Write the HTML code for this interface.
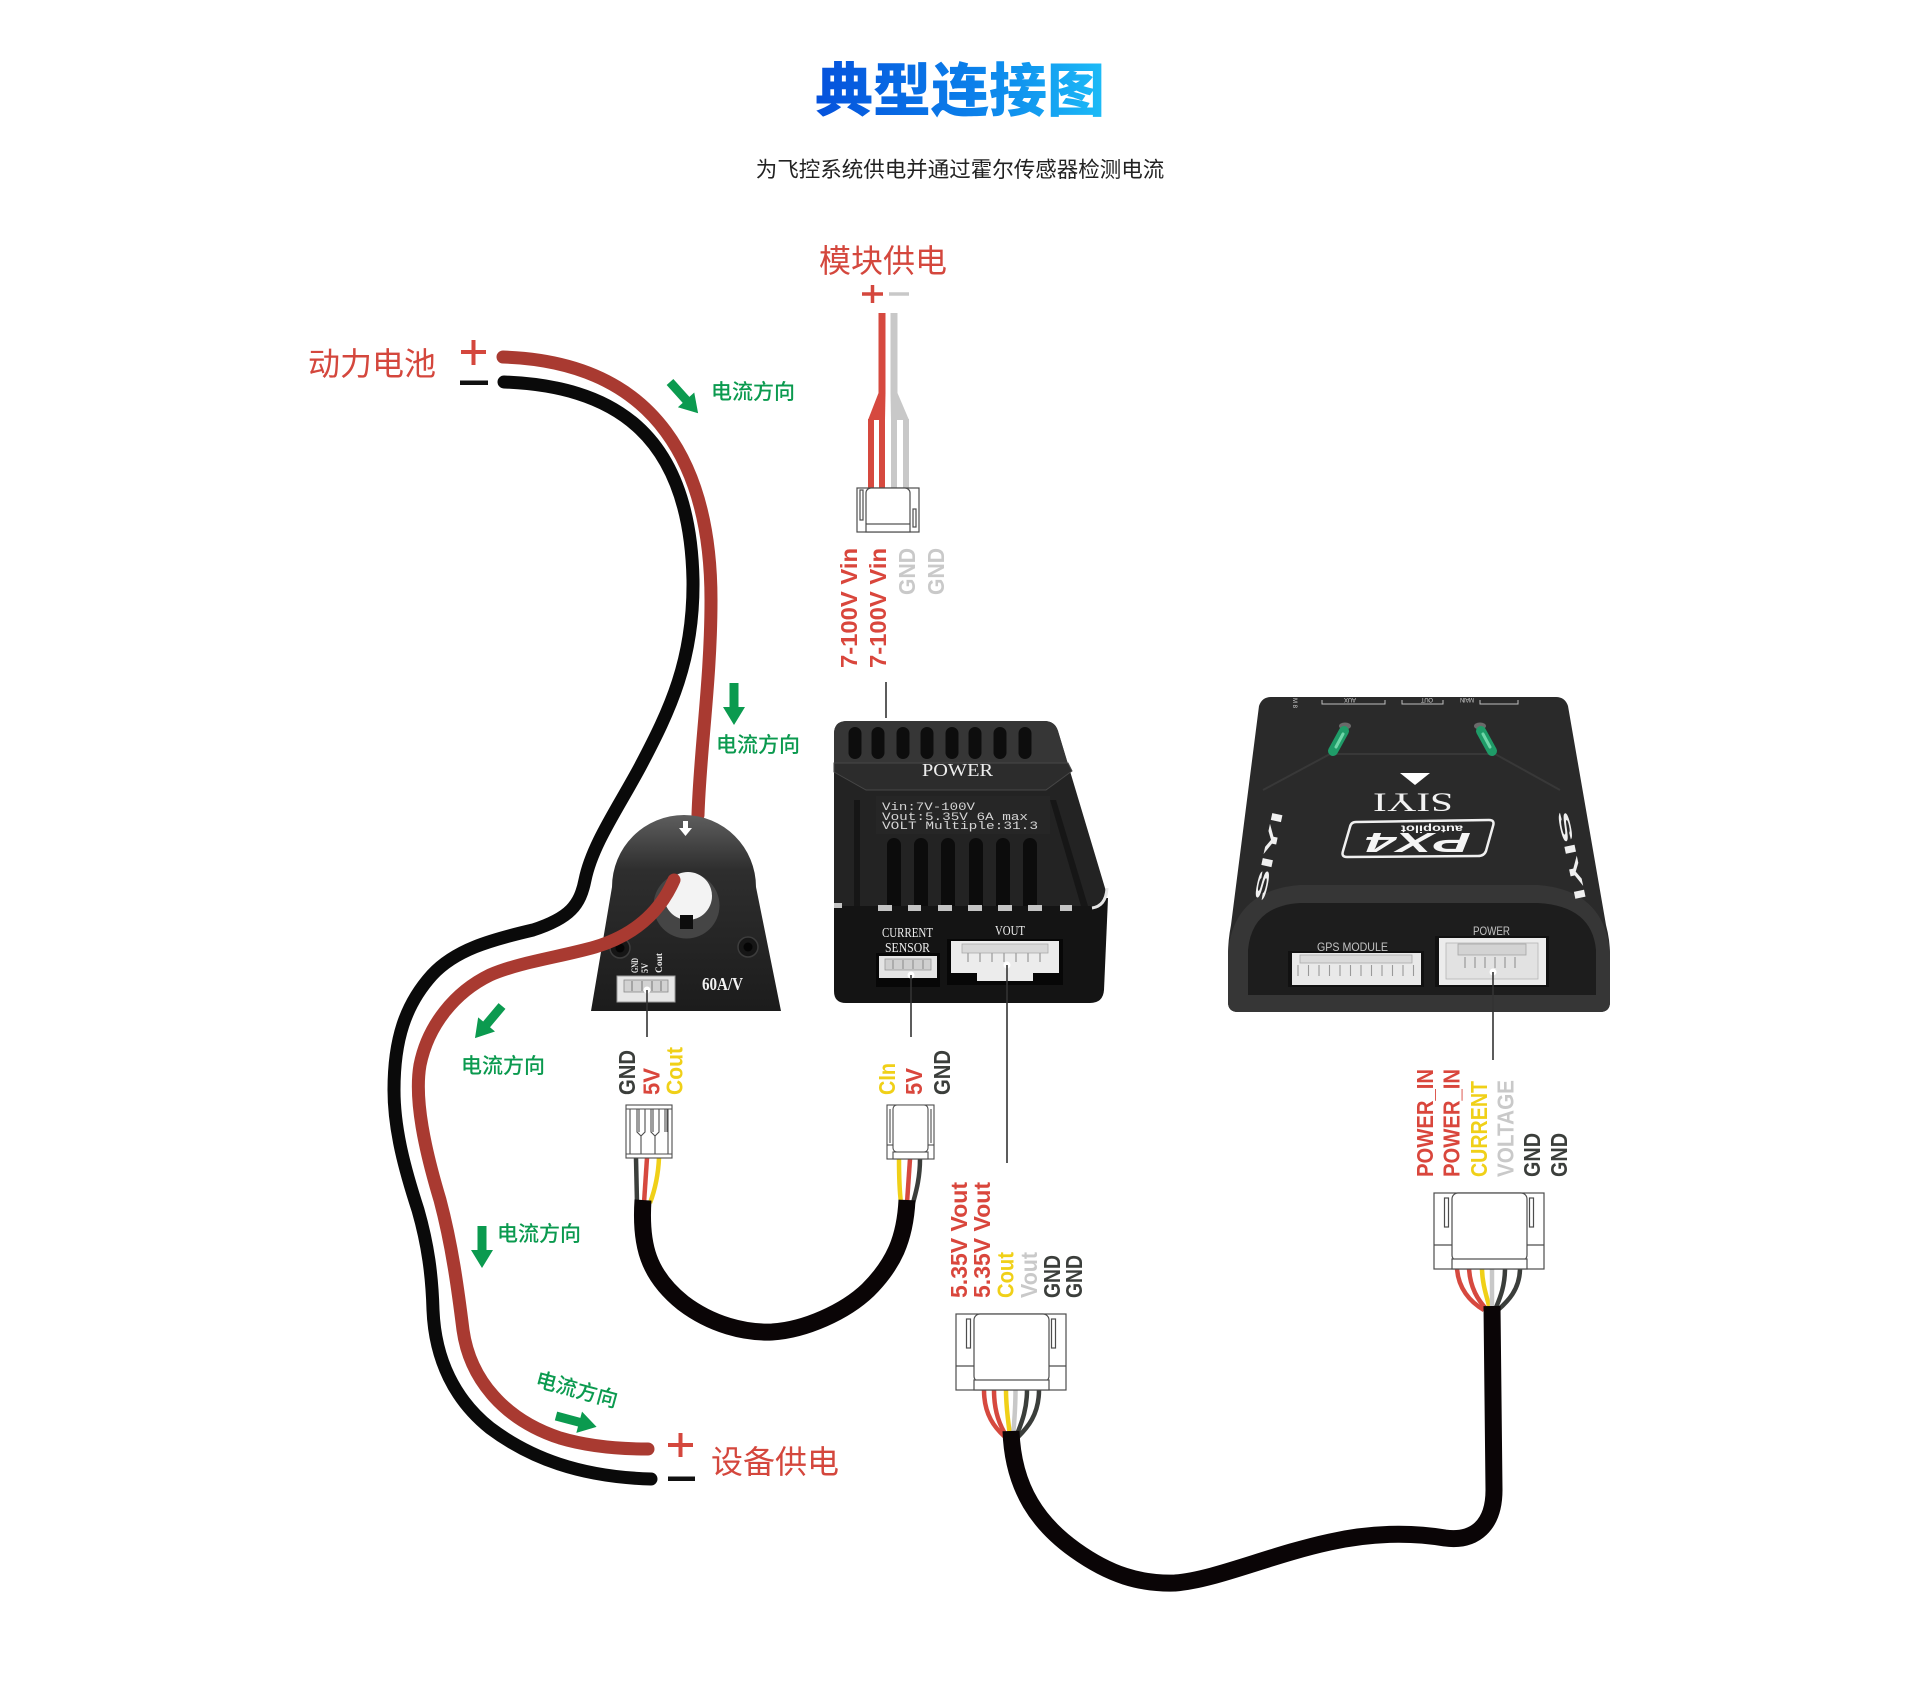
<!DOCTYPE html>
<html lang="zh"><head><meta charset="utf-8"><title>典型连接图</title>
<style>
html,body{margin:0;padding:0;background:#fff;width:1920px;height:1706px;overflow:hidden}
svg{display:block}
.cjk{font-family:"Liberation Sans","Noto Sans CJK SC",sans-serif}
.L{font-family:"Liberation Sans",sans-serif;font-weight:700;font-size:23px}
.g{font-family:"Liberation Sans","Noto Sans CJK SC",sans-serif;font-size:21px;fill:#0b9a4f;font-weight:500}
.serif{font-family:"Liberation Serif",serif}
.mono{font-family:"Liberation Mono",monospace}
.sans{font-family:"Liberation Sans",sans-serif}
</style></head><body>
<svg width="1920" height="1706" viewBox="0 0 1920 1706" xmlns="http://www.w3.org/2000/svg">
<defs>
<linearGradient id="tg" gradientUnits="userSpaceOnUse" x1="818" y1="0" x2="1103" y2="0">
<stop offset="0" stop-color="#0552dc"/><stop offset="0.55" stop-color="#0b80ea"/><stop offset="1" stop-color="#1cbbf7"/>
</linearGradient>
<linearGradient id="sens" x1="0" y1="0" x2="0" y2="1">
<stop offset="0" stop-color="#5e5e5e"/><stop offset="0.28" stop-color="#2e2e2e"/><stop offset="1" stop-color="#1c1c1c"/>
</linearGradient>
<path id="arr" d="M0 -4.5 L24 -4.5 L24 -11 L42 0 L24 11 L24 4.5 L0 4.5 Z" fill="#0b9a4f"/>
<g id="c6" fill="#fff" stroke="#4d4d4d" stroke-width="1.2">
<rect x="0" y="0" width="110" height="76"/>
<rect x="18" y="0" width="75" height="68" rx="6"/>
<rect x="18" y="66" width="75" height="10"/>
<rect x="10.5" y="5" width="4" height="29"/>
<rect x="95.5" y="5" width="4" height="29"/>
<line x1="0" y1="52" x2="18" y2="52"/>
<line x1="93" y1="52" x2="110" y2="52"/>
</g>
</defs>

<rect width="1920" height="1706" fill="#fff"/>

<!-- Title -->
<text class="cjk" x="960" y="111" text-anchor="middle" font-size="58" font-weight="900" fill="url(#tg)">典型连接图</text>
<text class="cjk" x="960" y="177" text-anchor="middle" font-size="21.5" fill="#222">为飞控系统供电并通过霍尔传感器检测电流</text>

<!-- Red labels -->
<text class="cjk" x="308" y="375" font-size="32" fill="#d4473d">动力电池</text>
<text class="cjk" x="819" y="272" font-size="32" fill="#d4473d">模块供电</text>
<text class="cjk" x="711" y="1473" font-size="32" fill="#d4473d">设备供电</text>

<!-- plus / minus -->
<g stroke="#d4473d" stroke-width="4">
<line x1="461" y1="352" x2="486" y2="352"/><line x1="473.5" y1="340" x2="473.5" y2="365"/>
<line x1="668" y1="1445" x2="693" y2="1445"/><line x1="680.5" y1="1433" x2="680.5" y2="1457"/>
</g>
<rect x="460" y="380.5" width="28" height="4.5" fill="#111"/>
<rect x="668" y="1476.5" width="27" height="4.5" fill="#111"/>
<g stroke-width="3.5">
<line x1="862" y1="294" x2="883" y2="294" stroke="#d4473d"/><line x1="872.5" y1="285" x2="872.5" y2="303" stroke="#d4473d"/>
<line x1="889" y1="294" x2="909" y2="294" stroke="#c8c8c8"/>
</g>

<!-- Battery cables -->
<path d="M504 382 C610 386, 690 430, 693 580 C694 660, 670 710, 640 767 C618 808, 592 845, 585 880 C580 905, 570 918, 533 930 C490 940, 455 950, 432 975 C405 1005, 394 1040, 394 1090 C394 1130, 405 1170, 418 1210 C428 1245, 432 1275, 433 1310 C435 1360, 455 1400, 490 1428 C530 1458, 580 1477, 651 1479" fill="none" stroke="#0a0a0a" stroke-width="13" stroke-linecap="round"/>
<path d="M503 357 C660 362, 711 470, 711 600 C711 680, 700 750, 698 815" fill="none" stroke="#a93a31" stroke-width="13" stroke-linecap="round"/>

<!-- Hall sensor -->
<g>
<path d="M591 1011 L612 887 A72 72 0 1 1 756 887 L781 1011 Z" fill="url(#sens)"/>
<circle cx="686.5" cy="905.5" r="33" fill="#454545"/>
<circle cx="688" cy="896" r="24" fill="#f3f3f3"/>
<rect x="680" y="915" width="13" height="14" fill="#0d0d0d"/>
<circle cx="620" cy="948" r="10" fill="#161616" stroke="#3d3d3d" stroke-width="1.5"/>
<circle cx="620" cy="948" r="4.5" fill="#050505"/>
<circle cx="748" cy="947" r="10" fill="#161616" stroke="#3d3d3d" stroke-width="1.5"/>
<circle cx="748" cy="947" r="4.5" fill="#050505"/>
<path d="M683 821 H688 V828 H692 L685.5 836 L679 828 H683 Z" fill="#fff"/>
<rect x="617" y="976" width="58" height="26" fill="#e6e6e6" stroke="#9a9a9a"/>
<rect x="624" y="980" width="44" height="12" fill="#d2d2d2" stroke="#8a8a8a" stroke-width="0.8"/>
<g stroke="#777" stroke-width="1"><line x1="632" y1="981" x2="632" y2="991"/><line x1="642" y1="981" x2="642" y2="991"/><line x1="652" y1="981" x2="652" y2="991"/><line x1="661" y1="981" x2="661" y2="991"/></g>
<text class="serif" fill="#eee" font-size="9" font-weight="700" transform="translate(638,973) rotate(-90)" textLength="15" lengthAdjust="spacingAndGlyphs">GND</text>
<text class="serif" fill="#eee" font-size="9" font-weight="700" transform="translate(648,973) rotate(-90)" textLength="10" lengthAdjust="spacingAndGlyphs">5V</text>
<text class="serif" fill="#eee" font-size="9" font-weight="700" transform="translate(662,973) rotate(-90)" textLength="20" lengthAdjust="spacingAndGlyphs">Cout</text>
<text class="serif" x="702" y="990" fill="#f2f2f2" font-size="18" font-weight="700" textLength="41" lengthAdjust="spacingAndGlyphs">60A/V</text>
</g>
<!-- red lower emerges from hole -->
<path d="M674 880 C660 912, 635 935, 595 947 C560 957, 520 962, 490 975 C455 992, 428 1025, 420 1065 C414 1100, 425 1150, 440 1200 C452 1245, 458 1290, 463 1330 C470 1380, 505 1420, 560 1438 C590 1447, 620 1449, 648 1449" fill="none" stroke="#a93a31" stroke-width="13" stroke-linecap="round"/>
<circle cx="647" cy="990" r="3.5" fill="#fff"/>
<line x1="647" y1="990" x2="647" y2="1037" stroke="#333" stroke-width="1.6"/>

<!-- Module power wires -->
<rect x="878.5" y="313" width="7" height="81" fill="#d6493f"/>
<rect x="890.5" y="313" width="7" height="81" fill="#c8c8c8"/>
<polygon points="878.5,393 885.5,393 885,420 868,420" fill="#d6493f"/>
<polygon points="890.5,393 897.5,393 909,420 891,420" fill="#c8c8c8"/>
<rect x="868" y="419" width="6" height="70" fill="#d6493f"/>
<rect x="879" y="419" width="6" height="70" fill="#d6493f"/>
<rect x="891" y="419" width="6" height="70" fill="#c8c8c8"/>
<rect x="903" y="419" width="6" height="70" fill="#c8c8c8"/>
<g transform="translate(857,488)" fill="#fff" stroke="#4d4d4d" stroke-width="1.2">
<rect x="0" y="0" width="62" height="44"/>
<rect x="9" y="0" width="44" height="40" rx="5"/>
<rect x="9" y="36" width="44" height="8"/>
<rect x="3" y="2" width="3" height="30"/>
<rect x="56" y="21" width="3" height="18"/>
</g>
<text class="L" fill="#d9463c" transform="translate(857,668) rotate(-90)" textLength="120" lengthAdjust="spacingAndGlyphs">7-100V Vin</text>
<text class="L" fill="#d9463c" transform="translate(886,668) rotate(-90)" textLength="120" lengthAdjust="spacingAndGlyphs">7-100V Vin</text>
<text class="L" fill="#c9c9c9" transform="translate(915,595) rotate(-90)" textLength="47" lengthAdjust="spacingAndGlyphs">GND</text>
<text class="L" fill="#c9c9c9" transform="translate(944,595) rotate(-90)" textLength="47" lengthAdjust="spacingAndGlyphs">GND</text>
<line x1="886" y1="682" x2="886" y2="718" stroke="#333" stroke-width="1.6"/>

<!-- POWER module -->
<g>
<path d="M834 898 L1108 898 L1104 990 Q1103 1003 1090 1003 L846 1003 Q834 1003 834 991 Z" fill="#141414"/>
<path d="M847 721 L1044 721 Q1055 721 1058 731 L1105 888 Q1110 906 1094 906 L834 906 L834 734 Q834 721 847 721 Z" fill="#232323"/>
<path d="M847 721 L1044 721 Q1055 721 1058 731 L1068 764 L834 764 L834 734 Q834 721 847 721 Z" fill="#363636"/>
<g fill="#0d0d0d">
<rect x="848.5" y="727" width="13" height="32" rx="6.5"/>
<rect x="871.5" y="727" width="13" height="32" rx="6.5"/>
<rect x="896.5" y="727" width="13" height="32" rx="6.5"/>
<rect x="920.5" y="727" width="13" height="32" rx="6.5"/>
<rect x="945.5" y="727" width="13" height="32" rx="6.5"/>
<rect x="968.5" y="727" width="13" height="32" rx="6.5"/>
<rect x="993.5" y="727" width="13" height="32" rx="6.5"/>
<rect x="1018.5" y="727" width="13" height="32" rx="6.5"/>
</g>
<path d="M834 763 L1068 763 L1072 771 L1046 790 L866 790 L834 772 Z" fill="#2c2c2c" stroke="#474747" stroke-width="1"/>
<text class="serif" x="922" y="776" fill="#ededed" font-size="18" textLength="71" lengthAdjust="spacingAndGlyphs">POWER</text>
<rect x="876" y="796" width="174" height="38" fill="#262626"/>
<g class="mono" fill="#d6d6d6" font-size="11">
<text x="882" y="810" textLength="93" lengthAdjust="spacingAndGlyphs">Vin:7V-100V</text>
<text x="882" y="820" textLength="146" lengthAdjust="spacingAndGlyphs">Vout:5.35V 6A max</text>
<text x="882" y="829" textLength="156" lengthAdjust="spacingAndGlyphs">VOLT Multiple:31.3</text>
</g>
<g fill="#0c0c0c">
<path d="M887 906 V845 a7 7 0 0 1 14 0 V906 Z"/>
<path d="M914 906 V845 a7 7 0 0 1 14 0 V906 Z"/>
<path d="M941 906 V845 a7 7 0 0 1 14 0 V906 Z"/>
<path d="M969 906 V845 a7 7 0 0 1 14 0 V906 Z"/>
<path d="M996 906 V845 a7 7 0 0 1 14 0 V906 Z"/>
<path d="M1023 906 V845 a7 7 0 0 1 14 0 V906 Z"/>
<rect x="854" y="800" width="6" height="106" fill="#161616"/>
<polygon points="1050,800 1056,800 1088,906 1081,906" fill="#161616"/>
</g>
<g fill="#c4c4c4">
<rect x="878" y="905" width="14" height="6"/><rect x="908" y="905" width="13" height="6"/><rect x="938" y="905" width="14" height="6"/><rect x="968" y="905" width="14" height="6"/><rect x="998" y="905" width="14" height="6"/><rect x="1028" y="905" width="14" height="6"/><rect x="1060" y="905" width="12" height="6"/>
<rect x="834" y="903" width="8" height="5"/>
</g>
<path d="M1092 908 Q1106 906 1107 888" fill="none" stroke="#e6e6e6" stroke-width="3"/>
<rect x="876" y="953" width="64" height="34" fill="#070707"/>
<rect x="879" y="956" width="58" height="22" fill="#e4e4e4"/>
<rect x="885" y="959" width="46" height="11" fill="#cfcfcf" stroke="#999" stroke-width="0.8"/>
<g stroke="#888" stroke-width="1"><line x1="893" y1="960" x2="893" y2="969"/><line x1="903" y1="960" x2="903" y2="969"/><line x1="913" y1="960" x2="913" y2="969"/><line x1="923" y1="960" x2="923" y2="969"/></g>
<rect x="947" y="939" width="116" height="46" fill="#070707"/>
<rect x="951" y="941" width="108" height="32" fill="#ececec"/>
<rect x="977" y="972" width="56" height="9" fill="#ececec"/>
<rect x="962" y="944" width="86" height="9" fill="#d8d8d8" stroke="#aaa" stroke-width="0.8"/>
<g stroke="#999" stroke-width="1.2"><line x1="968" y1="953" x2="968" y2="962"/><line x1="980" y1="953" x2="980" y2="962"/><line x1="992" y1="953" x2="992" y2="962"/><line x1="1004" y1="953" x2="1004" y2="962"/><line x1="1016" y1="953" x2="1016" y2="962"/><line x1="1028" y1="953" x2="1028" y2="962"/><line x1="1040" y1="953" x2="1040" y2="962"/></g>
<g class="serif" fill="#eee" font-size="14">
<text x="882" y="937" textLength="51" lengthAdjust="spacingAndGlyphs">CURRENT</text>
<text x="885" y="952" textLength="45" lengthAdjust="spacingAndGlyphs">SENSOR</text>
<text x="995" y="935" textLength="30" lengthAdjust="spacingAndGlyphs">VOUT</text>
</g>
</g>
<circle cx="911" cy="975" r="3.5" fill="#fff"/>
<line x1="911" y1="975" x2="911" y2="1037" stroke="#333" stroke-width="1.6"/>
<circle cx="1007" cy="965" r="3.5" fill="#fff"/>
<line x1="1007" y1="965" x2="1007" y2="1163" stroke="#333" stroke-width="1.6"/>

<!-- Flight controller -->
<g>
<path d="M1271 697 L1556 697 Q1565 697 1568 706 L1606 925 Q1610 940 1610 955 L1610 1002 Q1610 1012 1600 1012 L1238 1012 Q1228 1012 1228 1002 L1228 955 Q1228 940 1231 925 L1259 706 Q1262 697 1271 697 Z" fill="#2a2a2a"/>
<path d="M1263 790 L1330 754 L1495 754 L1560 790" fill="none" stroke="#383838" stroke-width="2"/>
<path d="M1228 952 Q1234 890 1300 885 L1538 885 Q1604 890 1610 952 L1610 1002 Q1610 1012 1600 1012 L1238 1012 Q1228 1012 1228 1002 Z" fill="#363636"/>
<path d="M1248 995 L1248 950 Q1252 906 1300 903 L1538 903 Q1592 906 1596 950 L1596 995 Z" fill="#1d1d1d"/>
<!-- LEDs -->
<ellipse cx="1345" cy="726" rx="6" ry="3.5" fill="#6a6a6a"/>
<ellipse cx="1480" cy="726" rx="6" ry="3.5" fill="#6a6a6a"/>
<line x1="1333" y1="751" x2="1344" y2="731" stroke="#1f9c68" stroke-width="10" stroke-linecap="round"/>
<line x1="1336" y1="747" x2="1343" y2="734" stroke="#6fd6a8" stroke-width="3" stroke-linecap="round"/>
<line x1="1481" y1="731" x2="1492" y2="751" stroke="#1f9c68" stroke-width="10" stroke-linecap="round"/>
<line x1="1483" y1="734" x2="1490" y2="747" stroke="#6fd6a8" stroke-width="3" stroke-linecap="round"/>
<!-- top labels -->
<g fill="none" stroke="#bdbdbd" stroke-width="1">
<path d="M1322 700 V704 H1385 V700"/><path d="M1402 700 V704 H1443 V700"/><path d="M1480 700 V704 H1518 V700"/>
</g>
<g class="sans" fill="#cfcfcf" font-size="6">
<text transform="translate(1350,700) rotate(180)" x="-6" y="2" textLength="12">AUX</text>
<text transform="translate(1427,700) rotate(180)" x="-6" y="2" textLength="12">OUT</text>
<text transform="translate(1467,700) rotate(180)" x="-7" y="2" textLength="14">MAIN</text>
<text transform="translate(1295,703) rotate(90)" x="-5" y="2" textLength="10">M8</text>
</g>
<polygon points="1400,773 1430,773 1415,785" fill="#fff"/>
<text class="serif" fill="#f2f2f2" font-size="26" transform="translate(1413,802) rotate(180)" x="-40" y="8.5" textLength="80" lengthAdjust="spacingAndGlyphs">SIYI</text>
<path d="M1356 822 L1489 820 Q1495 820 1493 826 L1486 851 Q1484 856 1478 856 L1347 857 Q1341 857 1343 851 L1350 827 Q1351 822 1356 822 Z" fill="none" stroke="#f0f0f0" stroke-width="2.5"/>
<text class="sans" fill="#f5f5f5" font-size="28" font-weight="700" font-style="italic" transform="translate(1418,843) rotate(180)" x="-53" y="10" textLength="106" lengthAdjust="spacingAndGlyphs">PX4</text>
<text class="sans" fill="#f5f5f5" font-size="10" font-weight="700" transform="translate(1432,829) rotate(180)" x="-31" y="3.5" textLength="62" lengthAdjust="spacingAndGlyphs">autopilot</text>
<text class="sans" fill="#f0f0f0" font-size="15" font-weight="700" transform="translate(1264,902) rotate(-78)" textLength="92" lengthAdjust="spacingAndGlyphs">SIYI</text>
<text class="sans" fill="#f0f0f0" font-size="15" font-weight="700" transform="translate(1557,812) rotate(78)" textLength="92" lengthAdjust="spacingAndGlyphs">SIYI</text>
<!-- connectors -->
<rect x="1288" y="951" width="136" height="36" fill="#111"/>
<rect x="1292" y="953" width="129" height="32" fill="#e9e9e9"/>
<rect x="1300" y="955" width="112" height="8" fill="#dadada" stroke="#aaa" stroke-width="0.8"/>
<g stroke="#999" stroke-width="1.1">
<line x1="1298" y1="965" x2="1298" y2="976"/><line x1="1308.5" y1="965" x2="1308.5" y2="976"/><line x1="1319" y1="965" x2="1319" y2="976"/><line x1="1329.5" y1="965" x2="1329.5" y2="976"/><line x1="1340" y1="965" x2="1340" y2="976"/><line x1="1350.5" y1="965" x2="1350.5" y2="976"/><line x1="1361" y1="965" x2="1361" y2="976"/><line x1="1371.5" y1="965" x2="1371.5" y2="976"/><line x1="1382" y1="965" x2="1382" y2="976"/><line x1="1392.5" y1="965" x2="1392.5" y2="976"/><line x1="1403" y1="965" x2="1403" y2="976"/><line x1="1413.5" y1="965" x2="1413.5" y2="976"/>
</g>
<text class="sans" x="1317" y="951" fill="#c4c4c4" font-size="12" textLength="71" lengthAdjust="spacingAndGlyphs">GPS MODULE</text>
<rect x="1435" y="936" width="114" height="51" fill="#111"/>
<rect x="1439" y="938" width="107" height="47" fill="#ececec"/>
<rect x="1446" y="943" width="92" height="36" fill="#e2e2e2" stroke="#b5b5b5" stroke-width="0.8"/>
<rect x="1458" y="944" width="68" height="11" fill="#d3d3d3" stroke="#a5a5a5" stroke-width="0.8"/>
<g stroke="#999" stroke-width="1.2">
<line x1="1465" y1="957" x2="1465" y2="968"/><line x1="1475" y1="957" x2="1475" y2="968"/><line x1="1485" y1="957" x2="1485" y2="968"/><line x1="1495" y1="957" x2="1495" y2="968"/><line x1="1505" y1="957" x2="1505" y2="968"/><line x1="1515" y1="957" x2="1515" y2="968"/>
</g>
<text class="sans" x="1473" y="935" fill="#c4c4c4" font-size="12" textLength="37" lengthAdjust="spacingAndGlyphs">POWER</text>
</g>
<circle cx="1493" cy="972" r="3.5" fill="#fff"/>
<line x1="1493" y1="972" x2="1493" y2="1060" stroke="#333" stroke-width="1.6"/>

<!-- Hall -> module cable -->
<g fill="none" stroke-width="4.5">
<path d="M636 1158 L637 1203" stroke="#3b3e3b"/>
<path d="M647 1158 L644 1203" stroke="#d6493f"/>
<path d="M659 1158 C658 1180, 653 1195, 650 1203" stroke="#f0d018"/>
<path d="M899 1159 C899 1180, 900 1195, 901 1203" stroke="#f0d018"/>
<path d="M910 1159 L907 1203" stroke="#d6493f"/>
<path d="M920 1159 C920 1180, 915 1195, 913 1203" stroke="#3b3e3b"/>
</g>
<path d="M643 1200 C640 1245, 648 1275, 683 1303 C712 1325, 745 1333, 772 1332 C805 1330, 845 1312, 868 1290 C893 1265, 905 1240, 907 1200" fill="none" stroke="#0a0506" stroke-width="17"/>
<!-- Hall connector -->
<g transform="translate(626,1105)" fill="#fff" stroke="#4d4d4d" stroke-width="1.1">
<rect x="0" y="0" width="46" height="53"/>
<line x1="0" y1="4" x2="46" y2="4"/>
<line x1="0" y1="49" x2="46" y2="49"/>
<path d="M4 4 V49 M11 4 V27 L15 31 L19 27 V4 M13 4 V27 M25 4 V27 L29 31 L33 27 V4 M27 4 V27 M39 4 V27 M41 4 V27 M42 4 V49 M15 31 V49 M29 31 V49" fill="none"/>
</g>
<!-- CIn connector -->
<g transform="translate(887,1105)" fill="#fff" stroke="#4d4d4d" stroke-width="1.1">
<rect x="0" y="0" width="47" height="54"/>
<rect x="6" y="0" width="35" height="47" rx="4"/>
<rect x="6" y="47" width="35" height="7"/>
<line x1="0" y1="40" x2="6" y2="40"/><line x1="41" y1="40" x2="47" y2="40"/>
<line x1="3" y1="4" x2="3" y2="38"/><line x1="44" y1="4" x2="44" y2="38"/>
</g>

<!-- VOUT cable to FC -->
<g fill="none" stroke-width="4.5">
<path d="M984 1390 C984 1415, 995 1428, 1005 1437" stroke="#d6493f"/>
<path d="M994 1390 C994 1412, 1000 1426, 1007 1437" stroke="#d6493f"/>
<path d="M1006 1390 C1006 1410, 1009 1425, 1010 1437" stroke="#f0d018"/>
<path d="M1015.5 1390 C1015.5 1410, 1014 1425, 1013 1437" stroke="#c8c8c8"/>
<path d="M1027 1390 C1027 1412, 1020 1426, 1016 1437" stroke="#3b3e3b"/>
<path d="M1039 1390 C1039 1415, 1027 1428, 1018 1437" stroke="#3b3e3b"/>
<path d="M1457 1268 C1458 1288, 1470 1302, 1484 1310" stroke="#d6493f"/>
<path d="M1469 1268 C1470 1288, 1478 1300, 1487 1310" stroke="#d6493f"/>
<path d="M1482 1268 C1482 1285, 1488 1300, 1490 1310" stroke="#f0d018"/>
<path d="M1492 1268 C1492 1285, 1492 1300, 1492 1310" stroke="#c8c8c8"/>
<path d="M1505 1268 C1505 1288, 1499 1300, 1495 1310" stroke="#3b3e3b"/>
<path d="M1520 1268 C1520 1290, 1507 1302, 1498 1310" stroke="#3b3e3b"/>
</g>
<path d="M1011 1431 C1013 1490, 1040 1525, 1075 1550 C1110 1575, 1140 1584, 1175 1583 C1215 1580, 1270 1555, 1330 1542 C1370 1533, 1410 1532, 1445 1538 C1475 1542, 1494 1525, 1494 1490 L1492 1306" fill="none" stroke="#0a0506" stroke-width="17"/>
<use href="#c6" x="956" y="1314"/>
<use href="#c6" x="1434" y="1193"/>

<!-- Bottom labels -->
<text class="L" fill="#3b3e3b" transform="translate(635,1095) rotate(-90)" textLength="45" lengthAdjust="spacingAndGlyphs">GND</text>
<text class="L" fill="#d9463c" transform="translate(659.5,1095) rotate(-90)" textLength="27" lengthAdjust="spacingAndGlyphs">5V</text>
<text class="L" fill="#f0d018" transform="translate(682.5,1095) rotate(-90)" textLength="48" lengthAdjust="spacingAndGlyphs">Cout</text>

<text class="L" fill="#f0d018" transform="translate(895,1095) rotate(-90)" textLength="32" lengthAdjust="spacingAndGlyphs">CIn</text>
<text class="L" fill="#d9463c" transform="translate(922,1095) rotate(-90)" textLength="27" lengthAdjust="spacingAndGlyphs">5V</text>
<text class="L" fill="#3b3e3b" transform="translate(950,1095) rotate(-90)" textLength="45" lengthAdjust="spacingAndGlyphs">GND</text>

<text class="L" fill="#d9463c" transform="translate(967,1298) rotate(-90)" textLength="116" lengthAdjust="spacingAndGlyphs">5.35V Vout</text>
<text class="L" fill="#d9463c" transform="translate(990,1298) rotate(-90)" textLength="116" lengthAdjust="spacingAndGlyphs">5.35V Vout</text>
<text class="L" fill="#f0d018" transform="translate(1013.5,1298) rotate(-90)" textLength="46" lengthAdjust="spacingAndGlyphs">Cout</text>
<text class="L" fill="#c9c9c9" transform="translate(1037,1298) rotate(-90)" textLength="46" lengthAdjust="spacingAndGlyphs">Vout</text>
<text class="L" fill="#3b3e3b" transform="translate(1060,1298) rotate(-90)" textLength="43" lengthAdjust="spacingAndGlyphs">GND</text>
<text class="L" fill="#3b3e3b" transform="translate(1082,1298) rotate(-90)" textLength="43" lengthAdjust="spacingAndGlyphs">GND</text>

<text class="L" fill="#d9463c" transform="translate(1433,1177) rotate(-90)" textLength="108" lengthAdjust="spacingAndGlyphs">POWER_IN</text>
<text class="L" fill="#d9463c" transform="translate(1459.5,1177) rotate(-90)" textLength="108" lengthAdjust="spacingAndGlyphs">POWER_IN</text>
<text class="L" fill="#f0d018" transform="translate(1487,1177) rotate(-90)" textLength="96" lengthAdjust="spacingAndGlyphs">CURRENT</text>
<text class="L" fill="#c9c9c9" transform="translate(1513.5,1177) rotate(-90)" textLength="97" lengthAdjust="spacingAndGlyphs">VOLTAGE</text>
<text class="L" fill="#3b3e3b" transform="translate(1540,1177) rotate(-90)" textLength="44" lengthAdjust="spacingAndGlyphs">GND</text>
<text class="L" fill="#3b3e3b" transform="translate(1567,1177) rotate(-90)" textLength="44" lengthAdjust="spacingAndGlyphs">GND</text>

<!-- Current direction arrows -->
<use href="#arr" transform="translate(670,382) rotate(48)"/>
<use href="#arr" transform="translate(734,683) rotate(90)"/>
<use href="#arr" transform="translate(502,1006) rotate(130)"/>
<use href="#arr" transform="translate(482,1226) rotate(90)"/>
<use href="#arr" transform="translate(556,1416) rotate(15)"/>
<text class="g" x="711" y="399">电流方向</text>
<text class="g" x="716" y="752">电流方向</text>
<text class="g" x="461" y="1073">电流方向</text>
<text class="g" x="497" y="1241">电流方向</text>
<text class="g" transform="translate(577,1389) rotate(15)" y="8" text-anchor="middle">电流方向</text>
</svg>
</body></html>
